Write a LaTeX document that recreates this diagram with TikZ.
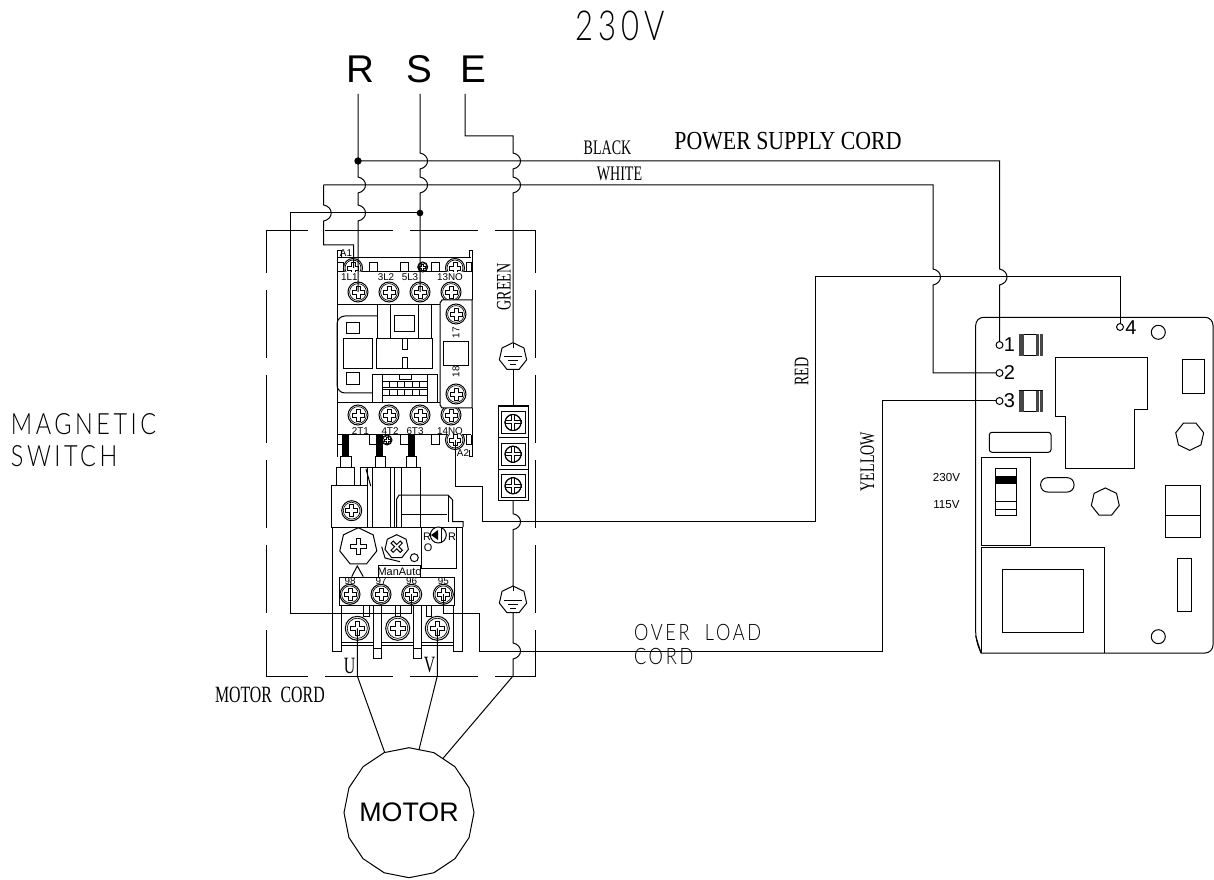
\documentclass[tikz,border=0pt]{standalone}
\usepackage{fontspec}
\usetikzlibrary{shapes.geometric, calc}
\setmainfont{Liberation Sans}
\newfontfamily\narrowSerif[FakeStretch=0.68]{Liberation Serif}
\newfontfamily\wideSerif[FakeStretch=0.84]{Liberation Serif}
\newfontfamily\cadFont[LetterSpace=12,FakeStretch=0.8]{Lato Light}
\newfontfamily\cadTitleFont[LetterSpace=12,FakeStretch=0.75]{Lato Light}
\newcommand{\px}{0.75pt}
\newcommand{\lineWidth}{0.75pt}
\newcommand{\hopHalf}{8}
\newcommand{\hopBulge}{10}
\definecolor{lineColor}{RGB}{0, 0, 0}
\definecolor{stripeGray}{RGB}{70,70,70}
\tikzstyle{part}=[draw=lineColor, line width=\lineWidth]
\tikzstyle{wire}=[draw=lineColor, line width=\lineWidth]
\tikzstyle{dashBox}=[wire, dash pattern=on 51pt off 12.75pt, dash phase=19.5pt]
\tikzstyle{dot}=[circle, fill=lineColor, inner sep=0, minimum size=5.5pt]
\tikzstyle{poly}=[part, fill=white, regular polygon, regular polygon sides=7, inner sep=0, outer sep=0]
\tikzstyle{pad}=[part, fill=white, circle, inner sep=0, outer sep=0, minimum size=5.2pt]
\tikzstyle{textNode}=[inner sep=0, outer sep=0]
\tikzstyle{tinyText}=[textNode, font=\fontsize{7.4}{8}\selectfont]
\tikzstyle{boardText}=[textNode, font=\fontsize{15}{15}\selectfont]
\tikzstyle{narrowText}=[textNode, font=\narrowSerif\fontsize{15.5}{15.5}\selectfont]
\tikzstyle{cordText}=[textNode, font=\narrowSerif\fontsize{17.5}{17.5}\selectfont]
\tikzstyle{cadText}=[textNode, font=\cadFont\fontsize{22}{22}\selectfont]
\tikzstyle{hop}=[to path={-- ($(\tikztotarget)+(0,-\hopHalf)$)
  .. controls ($(\tikztotarget)+(\hopBulge,-\hopHalf+2)$) and ($(\tikztotarget)+(\hopBulge,\hopHalf-2)$)
  .. ($(\tikztotarget)+(0,\hopHalf)$)}]
% Screw head with slotted cross
\newcommand{\screw}[2]{
  \begin{scope}[shift={(#1)}, scale=#2]
    \draw[part, fill=white] (0,0) circle (1);
    \draw[part, line width=0.5pt] (0,0) circle (0.84);
    \draw[part, line width=0.5pt] (-0.2,-0.6) -- (0.2,-0.6) -- (0.2,-0.2) -- (0.6,-0.2) -- (0.6,0.2) -- (0.2,0.2)
      -- (0.2,0.6) -- (-0.2,0.6) -- (-0.2,0.2) -- (-0.6,0.2) -- (-0.6,-0.2) -- (-0.2,-0.2) -- cycle;
  \end{scope}
}
% Outlined cross
\newcommand{\crossMark}[4]{
  \begin{scope}[shift={(#1)}, rotate=#2]
    \draw[part, fill=white] (-#4,-#3) -- (#4,-#3) -- (#4,-#4) -- (#3,-#4) -- (#3,#4) -- (#4,#4) -- (#4,#3)
      -- (-#4,#3) -- (-#4,#4) -- (-#3,#4) -- (-#3,-#4) -- (-#4,-#4) -- cycle;
  \end{scope}
}
% Earth symbol
\newcommand{\earthMark}[1]{
  \draw[part] ($(#1)+(0,-9)$) -- (#1);
  \draw[part] ($(#1)+(-9,0)$) -- ($(#1)+(9,0)$);
  \draw[part] ($(#1)+(-5,4)$) -- ($(#1)+(5,4)$);
  \draw[part] ($(#1)+(-3,8)$) -- ($(#1)+(3,8)$);
}
\begin{document}
\begin{tikzpicture}[x=\px, y=-\px]
\useasboundingbox (0,0) rectangle (1214,880);

% Useful coordinates
\coordinate (feedR) at (358,94);
\coordinate (feedS) at (420,94);
\coordinate (feedE) at (465,94);
\coordinate (blackRow) at (0,161);
\coordinate (whiteRow) at (0,185);
\coordinate (loadRow) at (0,213);
\coordinate (redRow) at (0,277);
\coordinate (redLowRow) at (0,521.7);
\coordinate (yellowRow) at (0,651);
\coordinate (boxNW) at (266,231);
\coordinate (boxNE) at (535.7,231);
\coordinate (boxSW) at (266,676);
\coordinate (boxSE) at (535.7,676);

% Titles
\node[cadText, font=\cadTitleFont\fontsize{31}{31}\selectfont] (titleVolt) at (620,26) {230V};
\node[textNode, font=\fontsize{29}{29}\selectfont] (labelR) at (360,69) {R};
\node[textNode, font=\fontsize{29}{29}\selectfont] (labelS) at (419.5,69) {S};
\node[textNode, font=\fontsize{29}{29}\selectfont] (labelE) at (473,69) {E};
\node[cadText, anchor=west] (labelMagnetic) at (11,424) {MAGNETIC};
\node[cadText, anchor=west] (labelSwitch) at (11,456) {SWITCH};
\node[textNode, font=\wideSerif\fontsize{19.5}{19.5}\selectfont] (labelPower) at (788,141.5) {POWER SUPPLY CORD};
\node[narrowText] (labelBlack) at (607.5,148) {BLACK};
\node[narrowText] (labelWhite) at (619.5,174) {WHITE};
\node[narrowText, rotate=90] (labelGreen) at (504,287) {GREEN};
\node[narrowText, rotate=90] (labelRed) at (801.5,371.5) {RED};
\node[narrowText, rotate=90] (labelYellow) at (867.5,461.5) {YELLOW};
\node[cordText, anchor=west] (labelCord) at (215,695) {MOTOR\hspace{3.5pt} CORD};
\node[cordText] (labelU) at (349.5,665.5) {U};
\node[cordText] (labelV) at (429.5,665.5) {V};
\node[cadText, font=\cadFont\fontsize{17}{17}\selectfont, anchor=west] (labelOver) at (634,632) {OVER\ \ LOAD};
\node[cadText, font=\cadFont\fontsize{17}{17}\selectfont, anchor=west] (labelLoadCord) at (634,656) {CORD};

% Contactor body
\draw[part] (341,258) -- (341,251) -- (337,251) -- (337,457);
\draw[part] (469,258) -- (469,251) -- (472,251) -- (472,300);
\draw[part] (337,258) -- (471,258);
\draw[part] (337,272) -- (471,272);
\draw[part] (337,305) -- (440,305);
\draw[part] (337,403) -- (440,403);
\draw[part] (337,435) -- (471,435);
\draw[part] (472,408) -- (472,457) -- (469,457) -- (469,450);
\foreach \x/\w in {337/6,369/8,400.7/7.5,431.7/7.5,466/5} {
  \draw[part] (\x,272) -- (\x,263) -- ($(\x,263)+(\w,0)$) -- ($(\x,272)+(\w,0)$);
  \draw[part] (\x,435) -- (\x,445) -- ($(\x,445)+(\w,0)$) -- ($(\x,435)+(\w,0)$);
}
\begin{scope}
  \clip (337,258) rectangle (471,272);
  \screw{353,268}{9.5}
  \screw{455,268}{9.5}
\end{scope}
\screw{422.7,267}{5}
\begin{scope}
  \clip (337,435) rectangle (471,457);
  \screw{455,440}{9.5}
\end{scope}
\screw{387,440}{5}

% Contactor screws
\foreach \x/\name in {358/termOneL,389/termThreeL,420/termFiveL,451/termThirteen} {
  \coordinate (\name) at (\x,292);
  \screw{\name}{10}
}
\foreach \x in {358,389,420,451} {
  \screw{\x,415}{10}
}

% Contactor face
\draw[part, rounded corners=6pt] (377,316) -- (337,316) -- (337,393) -- (372,393);
\foreach \x in {377,390,418,431} {
  \draw[part] (\x,305) -- (\x,339);
}
\draw[part] (394,316) rectangle (414,332);
\draw[part] (376,339) rectangle (432,369);
\draw[part] (402,339) -- (402,350) -- (407,350) -- (407,339);
\draw[part] (402,369) -- (402,358) -- (407,358) -- (407,369);
\draw[part] (346,323) rectangle (359,334);
\draw[part] (343,339) rectangle (372,369);
\draw[part] (346,373) rectangle (359,385);
\draw[part] (372,375) rectangle (437,403);
\draw[part] (382,375) -- (382,403);
\draw[part] (427,375) -- (427,403);
\draw[part] (399,375) -- (399,380) -- (411,380) -- (411,375);
\foreach \i in {0,...,5} {
  \draw[part] ($(382,382)+(7.5*\i,0)$) rectangle ($(389.5,388)+(7.5*\i,0)$);
  \draw[part] ($(382,390)+(7.5*\i,0)$) rectangle ($(389.5,396)+(7.5*\i,0)$);
}

% Auxiliary block
\draw[part, fill=white] (442,300) -- (472,300) -- (472,408) -- (442,408) -- (440,405) -- (440,303) -- cycle;
\screw{456,314}{10}
\screw{456,394}{10}
\draw[part] (443,342) rectangle (468,366);
\node[tinyText, rotate=90] (labelSeventeen) at (456,333) {17};
\node[tinyText, rotate=90] (labelEighteen) at (456,372) {18};

% Contactor labels
\foreach \x/\y/\t/\name in {349.3/277.3/1L1/lOne,386/277.3/3L2/lTwo,410/277.3/5L3/lThree,450/277.3/13NO/lFour,
    360.3/431.5/2T1/tOne,390/431.5/4T2/tTwo,415/431.5/6T3/tThree,450/431.5/14NO/tFour,346/253.5/A1/coilOne,463/453.5/A2/coilTwo} {
  \node[tinyText] (\name) at (\x,\y) {\t};
}

% Output pins
\foreach \x in {342,376.3,407.7} {
  \fill[lineColor] (\x,435) rectangle ($(\x,457)+(7,0)$);
}
\draw[part] (340,457) rectangle (351,468);
\draw[part] (375,457) rectangle (385,468);
\draw[part] (406,457) rectangle (416.7,468);
\draw[part] (336.7,468) rectangle (354,485.7);
\draw[part] (360,468) -- (420,468) -- (420,527);
\foreach \x in {367,372.7,390.7,394,401.7} {
  \draw[part] (\x,468) -- (\x,527);
}
\draw[part] (360,468) -- (360,486);
\draw[part] (366,469) -- (370.7,486);

% Overload relay
\draw[part] (331,485.7) rectangle (367,527);
\screw{351.7,510.7}{10}
\draw[part] (396.7,527) -- (396.7,499) -- (399,495) -- (448,495) -- (452.7,500) -- (452.7,521.7) -- (463,521.7) -- (463,527);
\draw[part] (401.7,514) -- (447,514);
\draw[part] (448,495) -- (448,521.7);
\draw[part] (331,527) -- (463,527);
\draw[part] (332.7,527) -- (332.7,651) -- (341.7,651) -- (341.7,605);
\draw[part] (462.3,527) -- (462.3,651) -- (453,651) -- (453,605);
\draw[part] (421.7,527) -- (421.7,568.3) -- (456.7,568.3) -- (456.7,527);
\node[poly, minimum size=28.5pt] (adjustDial) at (358.3,546.7) {};
\crossMark{adjustDial}{0}{8}{1.8}
\draw[part] (351.7,576.7) -- (357.3,566) -- (363.3,576.7);
\node[poly, minimum size=18pt] (amperePot) at (396.7,546.7) {};
\crossMark{amperePot}{45}{6.5}{1.5}
\draw[part] (381.7,546.7) -- (385,558) -- (400,561.7);
\draw[part] (414.3,557.7) circle (4);
\draw[part, fill=white] (378.3,565.7) rectangle (420.7,577);
\node[tinyText, font=\fontsize{8.2}{9}\selectfont] (labelManAuto) at (399.5,571.5) {ManAuto};
\draw[part, fill=white] (438.3,535) circle (8);
\fill[lineColor] (431,535) -- (438,530) -- (438,540) -- cycle;
\draw[part] (441,527) -- (441,543);
\foreach \x/\y/\t/\name in {427/537/R/resetLeft,452/537/R/resetRight,428/548/O/resetOff} {
  \node[tinyText, font=\fontsize{8.2}{9}\selectfont] (\name) at (\x,\y) {\t};
}

% Relay terminal strip
\draw[part, fill=white] (339.3,577.3) rectangle (454.3,605);
\foreach \x/\t/\name in {350/98/termNinetyEight,381/97/termNinetySeven,411.7/96/termNinetySix,443.3/95/termNinetyFive} {
  \coordinate (\name) at (\x,594.3);
  \screw{\name}{10}
  \node[tinyText] (l\name) at (\x,581) {\t};
}
\foreach \x/\w in {363.3/5.7,395/5,426/5} {
  \draw[part] (\x,605) -- (\x,616) -- ($(\x,616)+(\w,0)$) -- ($(\x,605)+(\w,0)$);
}
\draw[part] (341.7,642) -- (453,642);
\draw[part] (341.7,645) -- (453,645);
\foreach \x in {373.3,413.3} {
  \draw[part, fill=white] (\x,605) rectangle ($(\x,658)+(8.4,0)$);
  \draw[part] (\x,648) -- ($(\x,648)+(8.4,0)$);
}
\foreach \x/\name in {357.3/termU,397.7/termW,437.3/termV} {
  \coordinate (\name) at (\x,628.3);
  \screw{\name}{12}
}

% Earth strip
\foreach \y/\name in {406/stripA,437.7/stripB,469.3/stripC} {
  \draw[part, line width=1pt] (498.3,\y) rectangle ($(528.3,\y)+(0,31.5)$);
  \draw[part] ($(501,\y)+(0,5.5)$) rectangle ($(525,\y)+(0,28)$);
  \coordinate (\name) at ($(513,\y)+(0,16.5)$);
  \draw[part] (\name) circle (8);
  \crossMark{\name}{0}{8}{1.5}
  \draw[part] (\name) circle (8);
}
\coordinate (stripTop) at (513,406);
\coordinate (stripBottom) at (513,501);
\node[poly, minimum size=21pt] (earthTop) at (513,356.7) {};
\earthMark{earthTop}
\node[poly, minimum size=21pt] (earthLow) at (513,600) {};
\earthMark{earthLow}

% Dashed enclosure
\draw[dashBox] (boxNW) -- (boxNE);
\draw[dashBox] (boxSW) -- (boxSE);
\draw[dashBox] (boxNW) -- (boxSW);
\draw[dashBox] (boxNE) -- (boxSE);

% Motor
\node[part, regular polygon, regular polygon sides=16, shape border rotate=11.25, minimum size=97.5pt, inner sep=0, outer sep=0] (motor) at (409,812.7) {};
\node[textNode, font=\fontsize{20.1}{20.1}\selectfont] (labelMotor) at (motor) {MOTOR};

% Control board
\draw[part, rounded corners=6pt] (981,653) -- (1213,653) -- (1213,317.3) -- (975.7,317.3) -- (975.7,640) -- (981,653);
\draw[part] (975.7,636) -- (981,653);
\foreach \y/\name in {345/boardOne,373/boardTwo,401/boardThree} {
  \node[pad] (\name) at (999.5,\y) {};
}
\node[pad] (boardFour) at (1120,327) {};
\foreach \y/\t/\name in {345/1/lBoardOne,373/2/lBoardTwo,401/3/lBoardThree} {
  \node[boardText] (\name) at (1009.5,\y) {\t};
}
\node[boardText] (lBoardFour) at (1131,328) {4};
\foreach \y in {334.3,390.7} {
  \draw[part] (1019.3,\y) rectangle ($(1042.7,\y)+(0,21.3)$);
  \fill[stripeGray] (1019.3,\y) rectangle ($(1024,\y)+(0,21.3)$);
  \fill[stripeGray] (1036,\y) rectangle ($(1042.7,\y)+(0,21.3)$);
  \draw[white, line width=0.4pt] (1039,\y) -- ($(1039,\y)+(0,21.3)$);
}
\draw[part] (1055,357.3) -- (1147.3,357.3) -- (1147.3,409.3) -- (1134,409.3) -- (1134,469) -- (1065.7,469) -- (1065.7,416.7) -- (1055,416.7) -- cycle;
\draw[part] (1182.7,359.3) rectangle (1204,394);
\node[part, circle, minimum size=10.5pt, inner sep=0] (holeTop) at (1158.3,332.3) {};
\node[part, circle, minimum size=10.5pt, inner sep=0] (holeLow) at (1158.3,636.7) {};
\node[poly, minimum size=21.5pt, shape border rotate=180] (studRight) at (1189.7,436) {};
\node[poly, minimum size=21.5pt] (studMid) at (1105.3,502.3) {};
\draw[part, rounded corners=2pt] (989.3,432.3) rectangle (1051,452.3);
\draw[part] (981.3,457.3) rectangle (1030,545);
\draw[part] (995,469) rectangle (1016.7,515.3);
\fill[lineColor] (995,476.3) rectangle (1016.7,484);
\draw[part] (995,501.7) -- (1016.7,501.7);
\draw[part] (995,509.3) -- (1016.7,509.3);
\draw[part, rounded corners=5pt] (1040.7,477.7) rectangle (1074,492);
\draw[part] (1165,485.7) rectangle (1200.7,537.7);
\draw[part] (1165,515) -- (1200.7,515);
\draw[part] (1177.7,558.3) rectangle (1191.3,611);
\draw[part] (981.3,653) -- (981.3,547.7) -- (1104,547.7) -- (1104,653);
\draw[part] (1002.3,569.3) rectangle (1083,632.3);
\node[textNode, font=\fontsize{8.7}{9}\selectfont] (labelHigh) at (946.5,478) {230V};
\node[textNode, font=\fontsize{8.7}{9}\selectfont] (labelLow) at (946.5,505) {115V};

% Power wires
\coordinate (tapR) at (feedR|-blackRow);
\coordinate (tapS) at (feedS|-loadRow);
\coordinate (earthBend) at (513,136);
\coordinate (whiteStart) at (323.7,185);
\coordinate (whiteDrop) at (933,185);
\coordinate (whiteKnee) at (353.7,245);
\coordinate (coilFeed) at (353.7,268);
\draw[wire] (feedR) -- (tapR) to[hop] (feedR|-whiteRow) to[hop] (feedR|-loadRow) -- (termOneL);
\draw[wire] (feedS) to[hop] (feedS|-blackRow) to[hop] (feedS|-whiteRow) -- (tapS) -- (termFiveL);
\draw[wire] (feedE) |- (earthBend) to[hop] (earthBend|-blackRow) to[hop] (earthBend|-whiteRow) -- (earthTop.north);
\draw[wire] (earthTop.south) -- (stripTop);
\draw[wire] (stripBottom) to[hop] (stripBottom|-redLowRow) -- (earthLow.north);
\draw[wire] (earthLow.south) to[hop] (earthLow|-yellowRow) -- (earthLow|-boxSE) -- (motor.58);
\node[dot] (dotR) at (tapR) {};
\node[dot, minimum size=5pt] (dotS) at (tapS) {};

% Board wires
\draw[wire] (tapR) -- (tapR-|boardOne) to[hop] (boardOne|-redRow) -- (boardOne);
\draw[wire] (whiteStart) -- (whiteDrop) to[hop] (whiteDrop|-redRow) |- (boardTwo);
\draw[wire] (whiteStart) to[hop] (whiteStart|-loadRow) |- (whiteKnee) -- (coilFeed);
\draw[wire] (tapS) -- (290,213) |- (411.7,613) -- (termNinetySix);
\draw[wire] (455.7,440) |- (482,486) |- (815,521.7) |- (1120,277) -- (boardFour);
\draw[wire] (termNinetyFive) |- (479,613) |- (882,651) |- (boardThree);

% Motor wires
\draw[wire] (termU) -- (termU|-boxSW) -- (motor.112);
\draw[wire] (termV) -- (termV|-boxSW) -- (motor.81);

\end{tikzpicture}
\end{document}
